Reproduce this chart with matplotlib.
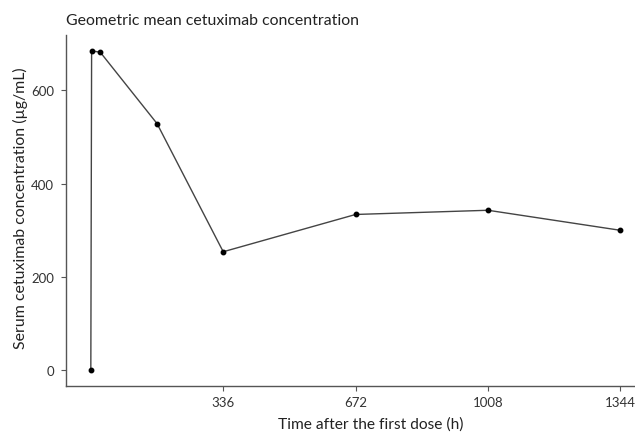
import matplotlib
matplotlib.use("Agg")
import matplotlib.pyplot as plt

# time after first dose (h) and geometric mean concentration (ug/mL)
time_h = [0, 2, 24, 168, 336, 672, 1008, 1344]
conc = [0, 685, 682, 529, 254, 334, 343, 300]

xticks = [336, 672, 1008, 1344]
yticks = [0, 200, 400, 600]

plt.rcParams['font.family'] = ['Lato', 'DejaVu Sans']

fig = plt.figure(figsize=(6.35, 4.35), dpi=100)
ax = fig.add_axes([66 / 635, 1 - 387 / 435, 569 / 635, 351 / 435])

ax.plot(time_h, conc, color='#444444', lw=1.0, marker='o', ms=3.2,
        mfc='black', mec='black')

ax.set_xlim(-63, 1381)
ax.set_ylim(-34, 719)
ax.set_xticks(xticks)
ax.set_yticks(yticks)
ax.tick_params(axis='both', colors='#333333', labelsize=9.5, length=3.5,
               width=0.8, color='#555555')
ax.tick_params(axis='y', pad=5)
for s in ['top', 'right']:
    ax.spines[s].set_visible(False)
for s in ['left', 'bottom']:
    ax.spines[s].set_color('#555555')
    ax.spines[s].set_linewidth(1.0)

fig.text(20 / 635, 1 - 208 / 435, 'Serum cetuximab concentration (µg/mL)',
         fontsize=11.4, color='#222222', va='center', ha='center', rotation=90)
fig.text(371 / 635, 1 - 425 / 435, 'Time after the first dose (h)',
         fontsize=11.2, color='#222222', va='center', ha='center')
fig.text(66 / 635, 1 - 21 / 435, 'Geometric mean cetuximab concentration',
         fontsize=11.4, color='#222222', va='center', ha='left')

fig.savefig('out.png', dpi=100)
